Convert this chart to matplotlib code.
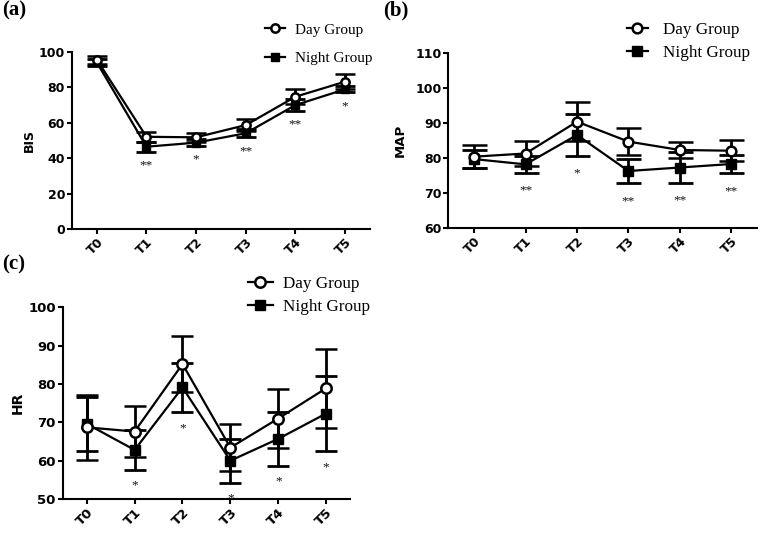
import numpy as np
import matplotlib
matplotlib.use("Agg")
import matplotlib.pyplot as plt
from matplotlib.lines import Line2D

# Time points shared by all three panels
time_points = ["T0", "T1", "T2", "T3", "T4", "T5"]

# (a) BIS
bis_day = [95.5, 52.0, 51.7, 58.6, 74.6, 83.1]
bis_day_err = [2.2, 2.9, 2.6, 3.4, 4.2, 4.1]
bis_night = [94.0, 46.4, 48.7, 54.0, 69.9, 78.8]
bis_night_err = [1.8, 2.8, 1.9, 2.3, 3.4, 1.7]
bis_sig = ["", "**", "*", "**", "**", "*"]

# (b) MAP
map_day = [80.3, 81.2, 90.3, 84.6, 82.2, 82.0]
map_day_err = [3.3, 3.6, 5.5, 3.8, 2.4, 3.0]
map_night = [79.6, 78.1, 86.5, 76.2, 77.2, 78.2]
map_night_err = [2.5, 2.4, 6.0, 3.5, 4.3, 2.7]
map_sig = ["", "**", "*", "**", "**", "**"]

# (c) HR
hr_day = [68.7, 67.6, 85.2, 63.4, 71.0, 78.9]
hr_day_err = [8.4, 6.7, 7.4, 6.2, 7.7, 10.3]
hr_night = [69.6, 62.8, 79.1, 60.0, 65.7, 72.3]
hr_night_err = [7.1, 5.1, 6.5, 5.7, 7.1, 9.8]
hr_sig = ["", "*", "*", "*", "*", "*"]

fig = plt.figure(figsize=(7.64, 5.34), dpi=100)

TICK_FONT = "DejaVu Sans"
SERIF = "Liberation Serif"


# Function to draw one panel with two groups, error bars and significance stars
def draw_panel(rect, day, day_err, night, night_err, sig, ylabel, ylim, yticks,
               tick_size, label_size, label_pad, ms, capsize, star_offset,
               leg_xy, leg_size, leg_spacing, leg_handle, leg_pad):
    ax = fig.add_axes(rect)
    x = np.arange(len(time_points))

    ax.errorbar(x, night, yerr=night_err, color="black", lw=1.6, marker="s",
                ms=ms, mfc="black", mec="black", elinewidth=2.0,
                capsize=capsize, capthick=2.0, zorder=3)
    ax.errorbar(x, day, yerr=day_err, color="black", lw=1.6, marker="o",
                ms=ms, mfc="white", mec="black", mew=1.8, elinewidth=2.0,
                capsize=capsize, capthick=2.0, zorder=4)

    # Significance stars under the lower end of the night group error bar
    for i in range(len(x)):
        if sig[i]:
            ax.annotate(sig[i], (x[i], night[i] - night_err[i]),
                        xytext=(0, -star_offset), textcoords="offset points",
                        ha="center", va="baseline", fontsize=9.5,
                        family=SERIF, color="#111111")

    ax.set_xlim(-0.5, 5.5)
    ax.set_ylim(*ylim)
    ax.set_yticks(yticks)
    ax.set_xticks(x)
    ax.set_xticklabels(time_points, rotation=45, ha="right",
                       rotation_mode="anchor")
    for lab in ax.get_xticklabels() + ax.get_yticklabels():
        lab.set_fontfamily(TICK_FONT)
        lab.set_fontweight("bold")
        lab.set_fontsize(tick_size)
    ax.set_ylabel(ylabel, fontfamily=TICK_FONT, fontweight="bold",
                  fontsize=label_size, labelpad=label_pad)

    ax.spines["top"].set_visible(False)
    ax.spines["right"].set_visible(False)
    ax.spines["left"].set_linewidth(1.5)
    ax.spines["bottom"].set_linewidth(1.5)
    ax.tick_params(direction="out", length=3.5, width=1.5, pad=1.5)
    ax.set_facecolor("none")

    handles = [
        Line2D([], [], color="black", lw=1.6, marker="o", ms=ms,
               mfc="white", mec="black", mew=1.8),
        Line2D([], [], color="black", lw=1.6, marker="s", ms=ms,
               mfc="black", mec="black"),
    ]
    ax.legend(handles, ["Day Group", "Night Group"], loc="center left",
              bbox_to_anchor=leg_xy, bbox_transform=fig.transFigure,
              frameon=False, borderpad=0, borderaxespad=0,
              labelspacing=leg_spacing, handlelength=leg_handle,
              handletextpad=leg_pad,
              prop={"family": SERIF, "size": leg_size})
    return ax


draw_panel([0.0942, 0.5712, 0.390, 0.332], bis_day, bis_day_err, bis_night,
           bis_night_err, bis_sig, "BIS", (0, 100), [0, 20, 40, 60, 80, 100],
           9, 9, 2, 6, 7, 12, (0.347, 0.9176), 11, 0.96, 1.3, 0.65)

draw_panel([0.5869, 0.5736, 0.404, 0.3277], map_day, map_day_err, map_night,
           map_night_err, map_sig, "MAP", (60, 110),
           [60, 70, 80, 90, 100, 110],
           9, 9.5, 6, 7, 9, 15, (0.8207, 0.9223), 12.3, 0.45, 1.2, 0.9)

draw_panel([0.0822, 0.0655, 0.376, 0.359], hr_day, hr_day_err, hr_night,
           hr_night_err, hr_sig, "HR", (50, 100), [50, 60, 70, 80, 90, 100],
           9.5, 10, 2.5, 7.5, 8, 13.5, (0.3246, 0.4466), 12.3, 0.45, 1.45, 0.6)

# Panel letters
fig.text(0.003, 0.981, "(a)", fontfamily=SERIF, fontweight="bold",
         fontsize=15, va="center", ha="left")
fig.text(0.501, 0.981, "(b)", fontfamily=SERIF, fontweight="bold",
         fontsize=15, va="center", ha="left")
fig.text(0.003, 0.505, "(c)", fontfamily=SERIF, fontweight="bold",
         fontsize=15, va="center", ha="left")

fig.savefig("out.png", dpi=100)
